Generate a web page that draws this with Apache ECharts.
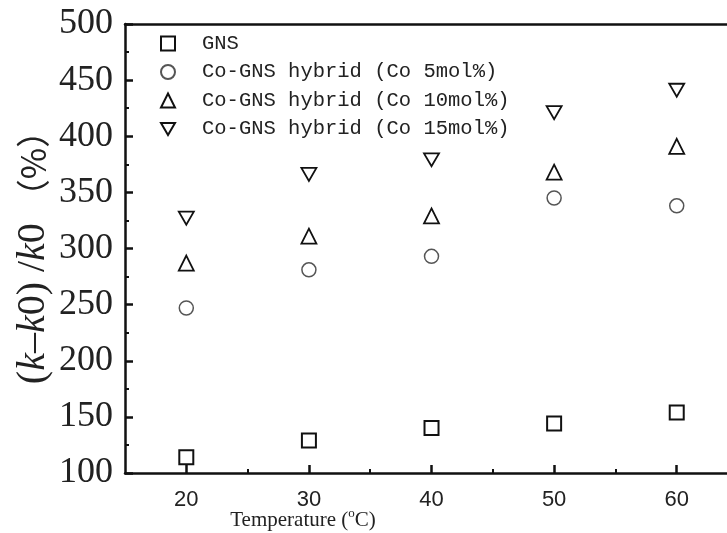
<!DOCTYPE html>
<html>
<head>
<meta charset="utf-8">
<script src="https://cdn.jsdelivr.net/npm/echarts@6/dist/echarts.min.js"></script>
<style>html,body{margin:0;padding:0;background:#fff}#c{width:727px;height:533px}</style>
</head>
<body>
<div id="c"></div>
<script>
const temperatures = [20, 30, 40, 50, 60];
const gns = [114, 129, 140, 144, 154];
const co5 = [247, 281, 293, 345, 338];
const co10 = [287, 311, 329, 368, 391];
const co15 = [327, 366, 379, 421, 441];
const seriesNames = ['GNS', 'Co-GNS hybrid (Co 5mol%)', 'Co-GNS hybrid (Co 10mol%)', 'Co-GNS hybrid (Co 15mol%)'];
const xTickValues = [20, 30, 40, 50, 60];
const xMinorTickValues = [25, 35, 45, 55];
const yMin = 100, yMax = 500, yStep = 50;
const xMin = 15, xMax = 64.1;

const pair = arr => temperatures.map((t, i) => [t, arr[i]]);
const downTri = 'path://M0,0L10,0L5,8.66Z';

const chart = echarts.init(document.getElementById('c'), null, {renderer: 'canvas'});
const baseScatter = (name, data, symbol, size, color, bw) => ({
  name, type: 'scatter', data: pair(data), symbol, symbolSize: size, symbolKeepAspect: true,
  itemStyle: {color: '#fff', borderColor: color, borderWidth: bw, opacity: 1},
  emphasis: {disabled: true}
});
chart.setOption({
  animation: false,
  grid: {left: 125, top: 24, width: 602, height: 449, show: false},
  legend: {
    orient: 'vertical', left: 155, top: 28, itemGap: 7.5, itemWidth: 14, itemHeight: 14,
    data: seriesNames,
    textStyle: {fontFamily: 'Liberation Mono', fontSize: 20.5, lineHeight: 16, color: '#222', padding: [0,0,0,22]}
  },
  xAxis: [{
    type: 'value', min: xMin, max: xMax, gridIndex: 0,
    axisLine: {lineStyle: {color: '#111', width: 2.5}},
    axisTick: {inside: true, length: 8, lineStyle: {color: '#111', width: 2.5}, customValues: xTickValues},
    axisLabel: {customValues: xTickValues, fontFamily: 'Liberation Sans', fontSize: 22, color: '#222', margin: 16},
    splitLine: {show: false}
  }, {
    type: 'value', min: xMin, max: xMax, gridIndex: 0, position: 'bottom',
    axisLine: {show: false},
    axisTick: {inside: true, length: 4, lineStyle: {color: '#111', width: 2}, customValues: xMinorTickValues},
    axisLabel: {show: false}, splitLine: {show: false}
  }, {
    type: 'value', min: xMin, max: xMax, gridIndex: 0, position: 'top',
    axisLine: {show: true, lineStyle: {color: '#111', width: 2.5}},
    axisTick: {show: false}, axisLabel: {show: false}, splitLine: {show: false}
  }],
  yAxis: {
    type: 'value', min: yMin, max: yMax, interval: yStep,
    axisLine: {show: true, lineStyle: {color: '#111', width: 2.5}},
    axisTick: {show: true, inside: true, length: 8, lineStyle: {color: '#111', width: 2.5}},
    minorTick: {show: true, splitNumber: 2, length: 4, lineStyle: {color: '#111', width: 2}},
    axisLabel: {fontFamily: 'Liberation Serif', fontSize: 36, color: '#222', margin: 12},
    splitLine: {show: false}
  },
  series: [
    baseScatter(seriesNames[0], gns, 'rect', 14, '#111', 2),
    baseScatter(seriesNames[1], co5, 'circle', 14, '#555', 1.5),
    baseScatter(seriesNames[2], co10, 'triangle', 15, '#111', 1.8),
    baseScatter(seriesNames[3], co15, downTri, 15, '#111', 1.8)
  ],
  graphic: [
    {
      type: 'text', x: 33, y: 249, rotation: Math.PI / 2,
      style: {
        text: '{n|(}{i|k}{n|\u2013}{i|k}{n|0) /}{i|k}{n|0 }{c|\uFF08%\uFF09}',
        align: 'center', verticalAlign: 'middle', fill: '#222',
        rich: {
          n: {fontFamily: 'Liberation Serif', fontSize: 40, fill: '#222'},
          i: {fontFamily: 'Liberation Serif', fontSize: 40, fontStyle: 'italic', fill: '#222'},
          c: {fontFamily: 'Noto Sans CJK SC', fontSize: 34, fill: '#222'}
        }
      }
    },
    {
      type: 'text', x: 303, y: 520,
      style: {
        text: '{n|Temperature (}{s|o}{n|C)}',
        align: 'center', verticalAlign: 'middle', fill: '#222',
        rich: {
          n: {fontFamily: 'Liberation Serif', fontSize: 21, fill: '#222'},
          s: {fontFamily: 'Liberation Serif', fontSize: 13, fill: '#222', padding: [0, 0, 12, 0]}
        }
      }
    }
  ]
});
</script>
</body>
</html>
